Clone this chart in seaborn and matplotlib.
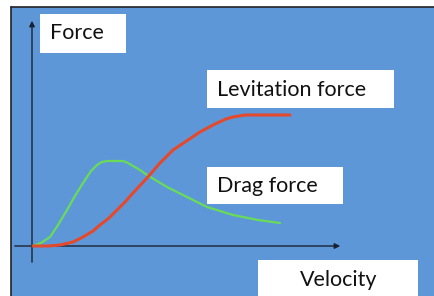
import numpy as np
import pandas as pd
import seaborn as sns
import matplotlib.pyplot as plt
from matplotlib.patches import Rectangle

#%% data (velocity vs force, arbitrary units)
levVel = [0, 15, 27, 40, 50, 60, 67, 76, 84, 92, 100, 114, 127, 140, 155, 167, 182, 193, 200, 212, 230, 257]
levForce = [0, 0, 1, 4, 9, 15, 21, 28, 36, 44, 53, 68, 83, 96, 106, 114, 122, 127, 129, 131, 131, 131]

dragVel = [0, 8, 17, 25, 34, 42, 50, 58, 64, 69, 74, 82, 90, 95, 100, 107, 114, 124, 134, 154, 174, 200, 225, 247]
dragForce = [0, 3, 9, 21, 36, 50, 63, 75, 81, 84, 85, 85, 85, 83, 80, 76, 71, 65, 59, 49, 39, 31, 26, 23]

labels = ['Force', 'Levitation force', 'Drag force', 'Velocity']

dfLev = pd.DataFrame({'velocity': levVel, 'force': levForce})
dfDrag = pd.DataFrame({'velocity': dragVel, 'force': dragForce})

#%% plot settings
sns.set_style('white')
plt.rcParams['font.family'] = ['Lato', 'DejaVu Sans']

bgColor = '#5e97d8'
redColor = '#e5492c'
greenColor = '#68dc58'

fig = plt.figure(figsize=(4.35, 2.96), dpi=100)
fig.patch.set_facecolor(bgColor)
# axes slightly larger than the figure so its edges fall outside the canvas
ax = fig.add_axes([-0.02, -0.02, 1.04, 1.04])
ax.set_facecolor(bgColor)

# white margin on top/left, then black border
ax.add_patch(Rectangle((-60, 238.5), 520, 30, facecolor='white', edgecolor='none', zorder=0.5))
ax.add_patch(Rectangle((-60, -80), 37.5, 340, facecolor='white', edgecolor='none', zorder=0.5))
ax.plot([-22.5, -22.5], [-80, 238.5], color='#222222', lw=1.2, zorder=1)
ax.plot([-22.5, 460], [238.5, 238.5], color='#222222', lw=1.2, zorder=1)

# axes arrows
ax.annotate('', xy=(-1, 228), xytext=(-1, -19),
            arrowprops=dict(arrowstyle='-|>', color='#1a2230', lw=1.0, mutation_scale=8), zorder=2)
ax.annotate('', xy=(310, 0), xytext=(-21, 0),
            arrowprops=dict(arrowstyle='-|>', color='#1a2230', lw=1.0, mutation_scale=8), zorder=2)

# curves
sns.lineplot(data=dfDrag, x='velocity', y='force', sort=False, color=greenColor, lw=1.6, ax=ax, zorder=3)
sns.lineplot(data=dfLev, x='velocity', y='force', sort=False, color=redColor, lw=2.2, ax=ax, zorder=4)
# limits matched to the enlarged axes (1 unit = 1 pixel)
ax.set_xlim(-33 - 8.7, 402 + 8.7)
ax.set_ylim(-50 - 5.92, 246 + 5.92)
for s in ax.spines.values():
    s.set_visible(False)
ax.set_xticks([])
ax.set_yticks([])
ax.set_xlabel('')
ax.set_ylabel('')

#%% label boxes
boxes = [(7, 193, 86, 39), (174, 138, 187, 38), (174, 42, 136, 37), (225, -80, 160, 66)]
textPos = [(17, 213), (184, 156), (184, 60), (267, -34)]
for (bx, by, bw, bh), (tx, ty), lab in zip(boxes, textPos, labels):
    ax.add_patch(Rectangle((bx, by), bw, bh, facecolor='white', edgecolor='none', zorder=5))
    ax.text(tx, ty, lab, fontsize=15.5, color='#111111', va='center', ha='left', zorder=6)

fig.savefig('out.png', dpi=100)
plt.close()
